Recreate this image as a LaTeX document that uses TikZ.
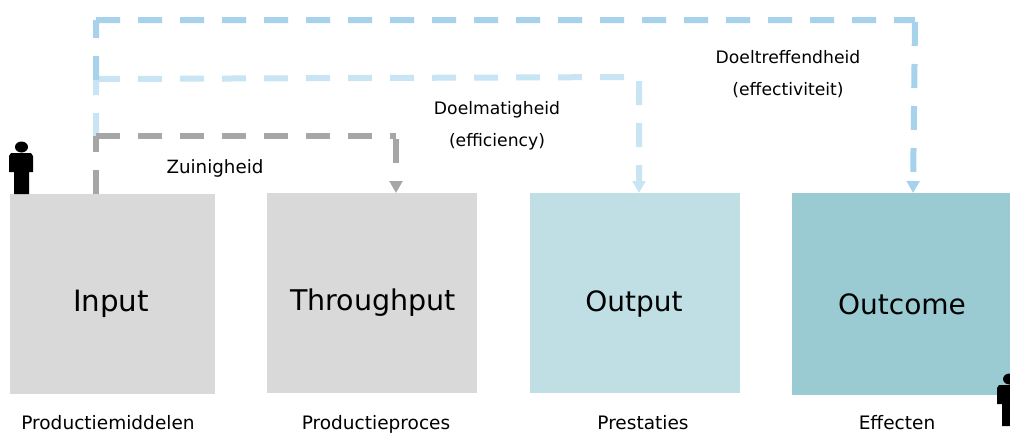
\documentclass[tikz,border=0pt]{standalone}
\usepackage{fontspec}
\setmainfont{DejaVu Sans}
\usetikzlibrary{arrows.meta, positioning}
\definecolor{box_grey}{HTML}{D9D9D9}
\definecolor{box_light}{HTML}{C0DFE4}
\definecolor{box_teal}{HTML}{9BCBD2}
\definecolor{line_grey}{HTML}{A6A6A6}
\definecolor{line_light}{HTML}{C9E4F3}
\definecolor{line_blue}{HTML}{A6D2EC}

\begin{document}
\begin{tikzpicture}[x=0.75pt, y=-0.75pt,
        phase/.style = {
            rectangle,
            anchor = north west,
            inner sep = 0pt
        },
        big_text/.style = {
            anchor = base,
            inner sep = 0pt,
            font = \fontsize{21}{25}\selectfont
        },
        small_text/.style = {
            anchor = base,
            inner sep = 0pt,
            font = \fontsize{12.9}{16}\selectfont
        },
        bottom_text/.style = {
            anchor = base,
            inner sep = 0pt,
            font = \fontsize{13.9}{17}\selectfont
        },
        flow/.style = {
            line width = 4.5pt,
            dash pattern = on 18pt off 13.5pt,
            -{Triangle[length=9pt, width=9.5pt]}
        },
        person/.pic = {
            \fill[black] (11.5,-47) ellipse [x radius=6.5, y radius=5.5];
            \fill[black] (1,-41) -- (21,-41) -- (23,-38) -- (23,-22) -- (19,-22) -- (19,0) -- (4,0) -- (4,-22) -- (-1,-22) -- (-1,-38) -- cycle;
        }
        ]

        \path[use as bounding box, clip] (0,0) rectangle (1010,432);

        \node (input) [phase, fill=box_grey, minimum width=153.75pt, minimum height=150pt] at (10,194) {};
        \node (throughput) [phase, fill=box_grey, minimum width=157.5pt, minimum height=150pt] at (267,193) {};
        \node (output) [phase, fill=box_light, minimum width=157.5pt, minimum height=150pt] at (530,193) {};
        \node (outcome) [phase, fill=box_teal, minimum width=163.5pt, minimum height=151.5pt] at (792,193) {};

        \node (input_text) [big_text, font=\fontsize{22}{25}\selectfont] at (111,311) {Input};
        \node (throughput_text) [big_text, font=\fontsize{21.4}{25}\selectfont] at (373,310) {Throughput};
        \node (output_text) [big_text] at (634,311) {Output};
        \node (outcome_text) [big_text] at (902,314) {Outcome};

        \node (input_label) [bottom_text] at (108,429) {Productiemiddelen};
        \node (throughput_label) [bottom_text] at (376,429) {Productieproces};
        \node (output_label) [bottom_text] at (643,429) {Prestaties};
        \node (outcome_label) [bottom_text] at (897,429) {Effecten};

        \node (zuinig_text) [small_text, font=\fontsize{13.7}{16}\selectfont] at (215,173) {Zuinigheid};
        \node (doelmatig_text) [small_text] at (497,114) {Doelmatigheid};
        \node (efficiency_text) [small_text] at (497,146) {(efficiency)};
        \node (doeltreffend_text) [small_text] at (788,63) {Doeltreffendheid};
        \node (effectiviteit_text) [small_text] at (788,95) {(effectiviteit)};

        \coordinate (grey_start) at (96,194);
        \coordinate (grey_corner) at (96,136);
        \coordinate (grey_turn) at (396,136);
        \coordinate (grey_down) at (396,139);
        \coordinate (grey_end) at (396,193);

        \coordinate (light_start) at (96,137);
        \coordinate (light_corner) at (96,79);
        \coordinate (light_turn) at (639,77);
        \coordinate (light_down) at (639,81);
        \coordinate (light_end) at (639,193);

        \coordinate (blue_start) at (96,80);
        \coordinate (blue_corner) at (96,20);
        \coordinate (blue_turn) at (915,20);
        \coordinate (blue_down) at (915,22);
        \coordinate (blue_end) at (913,193);

        \draw[flow, line_light] (light_start) -- (light_corner) (light_corner) -- (light_turn) (light_down) -- (light_end);
        \draw[flow, line_blue] (blue_start) -- (blue_corner) (blue_corner) -- (blue_turn) (blue_down) -- (blue_end);
        \draw[flow, line_grey] (grey_start) -- (grey_corner) (grey_corner) -- (grey_turn) (grey_down) -- (grey_end);

        \pic at (10,194) {person};
        \pic at (998,426) {person};

    \end{tikzpicture}
\end{document}
